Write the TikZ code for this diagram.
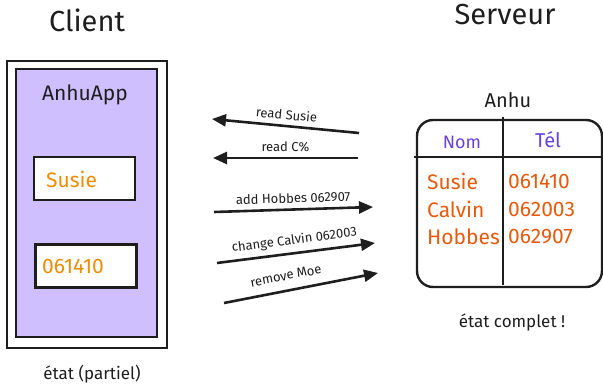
\documentclass[tikz,border=0pt]{standalone}
\usepackage{fontspec}
\setmainfont{Fira Sans}
\usetikzlibrary{arrows.meta,positioning,calc}
\definecolor{lavender}{HTML}{D0BFFF}
\definecolor{amber}{HTML}{F08C00}
\definecolor{rust}{HTML}{E8590C}
\definecolor{grape}{HTML}{6741D9}
\definecolor{ink}{HTML}{1E1E1E}

\begin{document}
\begin{tikzpicture}[x=1pt,y=-1pt,>={Triangle[length=14pt,width=12pt]},
  title/.style={font=\fontsize{29}{31}\selectfont,text=ink},
  note/.style={font=\fontsize{17}{19}\selectfont,text=ink},
  frame/.style={draw=ink,line width=2.4pt,inner sep=0pt},
  field/.style={frame,fill=white,minimum width=101,minimum height=43},
  msg/.style={->,line width=2.6pt,draw=ink},
  msglabel/.style={font=\fontsize{13}{14}\selectfont,sloped,above=4pt,text=ink,inner sep=1pt},
  cell/.style={font=\fontsize{21}{22}\selectfont,text=rust,anchor=west,inner sep=0pt}]
  \useasboundingbox (0,0) rectangle (603,385);
  % client side
  \node[title] (client) at (87,20) {Client};
  \node[frame,minimum width=160,minimum height=287] (phone) at (87,204.5) {};
  \node[frame,fill=lavender,minimum width=141,minimum height=268] (app) at (86.5,203) {};
  \node[font=\fontsize{21}{23}\selectfont,text=ink] (appname) at (85,95) {AnhuApp};
  \node[field] (namebox) at (84.5,178.5) {};
  \node[field] (telbox) at (86,266) {};
  \node[cell,text=amber] (nameval) at (46,179) {Susie};
  \node[cell,text=amber] (telval) at (42,266) {061410};
  \node[note] (partial) at (92,374) {état (partiel)};
  % messages
  \coordinate (r1a) at (359,133); \coordinate (r1b) at (212,119);
  \coordinate (r2a) at (358,158); \coordinate (r2b) at (213,158);
  \coordinate (w1a) at (214,212); \coordinate (w1b) at (373,207);
  \coordinate (w2a) at (217,263); \coordinate (w2b) at (375,243);
  \coordinate (w3a) at (224,303); \coordinate (w3b) at (378,273);
  \draw[msg] (r1a) -- node[msglabel] {read Susie} (r1b);
  \draw[msg] (r2a) -- node[msglabel] {read C\%} (r2b);
  \draw[msg] (w1a) -- node[msglabel] {add Hobbes 062907} (w1b);
  \draw[msg] (w2a) -- node[msglabel] {change Calvin 062003} (w2b);
  \draw[msg] (w3a) -- node[msglabel,pos=0.42,above=8pt] {remove Moe} (w3b);
  % server side
  \node[title] (server) at (505,15) {Serveur};
  \node[font=\fontsize{20}{22}\selectfont,text=ink] (tblname) at (508,100) {Anhu};
  \node[frame,rounded corners=16pt,minimum width=185,minimum height=167] (tbl) at (509.5,203.5) {};
  \coordinate (hl) at (414,157); \coordinate (hr) at (602,157);
  \coordinate (vt) at (503,117); \coordinate (vb) at (503,285);
  \draw[ink,line width=2.4pt] (hl) -- (hr);
  \draw[ink,line width=2.4pt] (vt) -- (vb);
  \node[font=\fontsize{18}{20}\selectfont,text=grape] (hname) at (462,142) {Nom};
  \node[font=\fontsize{20}{22}\selectfont,text=grape] (htel) at (548,140) {Tél};
  \node[cell] (n1) at (427,181) {Susie};
  \node[cell] (n2) at (427,209) {Calvin};
  \node[cell] (n3) at (427,237) {Hobbes};
  \node[cell] (t1) at (508,181) {061410};
  \node[cell] (t2) at (508,209) {062003};
  \node[cell] (t3) at (508,237) {062907};
  \node[note] (complete) at (512,323) {état complet !};
\end{tikzpicture}
\end{document}
